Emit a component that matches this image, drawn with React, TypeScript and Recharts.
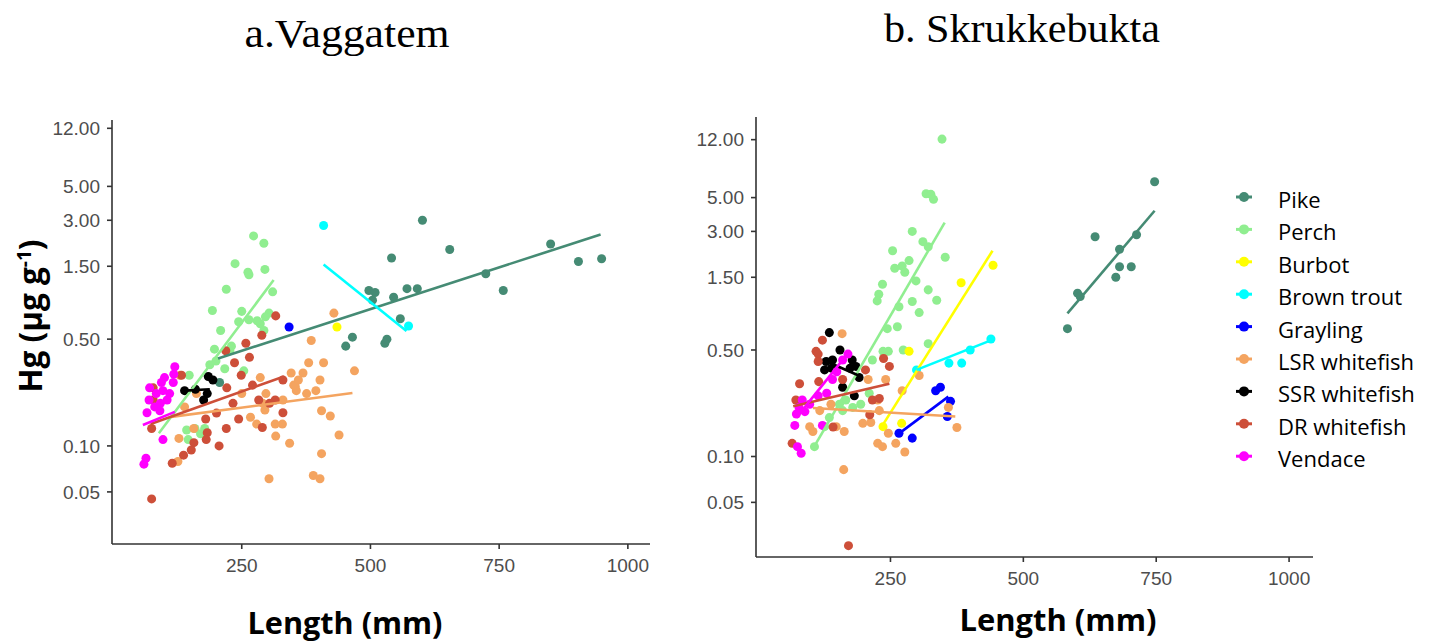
import { ScatterChart, Scatter, XAxis, YAxis, ZAxis } from 'recharts'

type Pt = [number, number]
type Fit = [number, number, number, number]

const species = ['Pike', 'Perch', 'Burbot', 'Brown trout', 'Grayling', 'LSR whitefish', 'SSR whitefish', 'DR whitefish', 'Vendace']
const lengthTicks = [250, 500, 750, 1000]
const hgTicks = [0.05, 0.1, 0.5, 1.5, 3, 5, 12]

// a. Vaggatem — [length mm, Hg µg/g]
const vagPike: Pt[] = [[601, 3.0], [654, 1.93], [541, 1.7], [850, 2.1], [904, 1.61], [949, 1.68], [724, 1.34], [758, 1.04], [497, 1.04], [509, 1.01], [571, 1.07], [591, 1.07], [545, 0.94], [504, 0.9], [558, 0.68], [465, 0.515], [452, 0.45], [532, 0.5], [528, 0.47], [207, 0.26]]
const vagPerch: Pt[] = [[273, 2.37], [293, 2.12], [237, 1.56], [262, 1.37], [264, 1.32], [295, 1.43], [220, 1.06], [310, 1.02], [193, 0.77], [250, 0.76], [303, 0.74], [296, 0.7], [244, 0.65], [264, 0.67], [286, 0.63], [293, 0.57], [209, 0.57], [280, 0.66], [227, 0.42], [197, 0.43], [188, 0.34], [217, 0.32], [254, 0.31], [148, 0.29], [143, 0.127], [159, 0.13], [178, 0.13], [146, 0.11], [170, 0.12], [200, 0.36], [230, 0.45]]
const vagBurbot: Pt[] = [[435, 0.6]]
const vagTrout: Pt[] = [[409, 2.77], [574, 0.61]]
const vagGrayling: Pt[] = [[342, 0.6]]
const vagLsr: Pt[] = [[429, 0.74], [385, 0.49], [380, 0.35], [409, 0.35], [346, 0.3], [369, 0.3], [469, 0.31], [402, 0.27], [351, 0.25], [356, 0.23], [376, 0.22], [394, 0.23], [405, 0.17], [422, 0.157], [329, 0.139], [439, 0.118], [343, 0.104], [405, 0.089], [389, 0.064], [402, 0.061], [286, 0.28], [354, 0.245], [297, 0.22], [291, 0.19], [295, 0.172], [267, 0.154], [279, 0.139], [315, 0.139], [316, 0.116], [128, 0.112], [157, 0.13], [126, 0.079], [303, 0.061], [130, 0.29], [162, 0.22], [139, 0.18], [330, 0.2], [360, 0.27], [250, 0.22]]
const vagSsr: Pt[] = [[139, 0.23], [185, 0.285], [194, 0.27], [183, 0.22], [176, 0.2], [160, 0.235]]
const vagDr: Pt[] = [[316, 0.71], [289, 0.53], [258, 0.47], [219, 0.42], [236, 0.35], [221, 0.24], [249, 0.29], [271, 0.25], [330, 0.27], [233, 0.19], [201, 0.164], [180, 0.15], [244, 0.15], [283, 0.2], [304, 0.19], [315, 0.2], [330, 0.165], [290, 0.132], [220, 0.13], [183, 0.122], [181, 0.11], [157, 0.105], [206, 0.1], [152, 0.094], [137, 0.087], [115, 0.077], [75, 0.13], [78, 0.2], [78, 0.24], [75, 0.045], [133, 0.29], [265, 0.38]]
const vagVendace: Pt[] = [[118, 0.295], [117, 0.26], [94, 0.26], [97, 0.23], [110, 0.22], [71, 0.24], [70, 0.2], [92, 0.19], [81, 0.18], [66, 0.165], [91, 0.17], [97, 0.11], [64, 0.083], [60, 0.076], [105, 0.2], [84, 0.22], [120, 0.33], [100, 0.28]]
// fitted lines: [species index, x1, y1, x2, y2] kept as endpoints
const vagFits: [number, ...Fit][] = [
  [0, 204, 0.374, 947, 2.42],
  [1, 89, 0.121, 312, 1.22],
  [3, 409, 1.54, 570, 0.566],
  [5, 113, 0.155, 465, 0.222],
  [6, 139, 0.23, 188, 0.235],
  [7, 73, 0.139, 332, 0.285],
  [8, 58, 0.137, 120, 0.167],
]

// b. Skrukkebukta
const skrPike: Pt[] = [[747, 6.35], [635, 2.77], [713, 2.85], [681, 2.29], [681, 1.76], [703, 1.76], [674, 1.5], [602, 1.18], [607, 1.12], [583, 0.69]]
const skrPerch: Pt[] = [[347, 12.1], [317, 5.3], [326, 5.25], [331, 4.87], [291, 3.0], [311, 2.57], [321, 2.38], [254, 2.24], [353, 2.03], [285, 1.93], [272, 1.78], [258, 1.72], [277, 1.62], [298, 1.42], [235, 1.35], [321, 1.24], [228, 1.16], [225, 1.05], [291, 1.04], [337, 1.06], [266, 0.96], [304, 0.88], [244, 0.69], [263, 0.71], [321, 0.55], [236, 0.49], [246, 0.49], [274, 0.5], [216, 0.43], [166, 0.235], [179, 0.21], [194, 0.22], [160, 0.2], [210, 0.26], [135, 0.18], [126, 0.157], [107, 0.116], [154, 0.22]]
const skrBurbot: Pt[] = [[383, 1.38], [443, 1.8], [285, 0.49], [236, 0.157], [271, 0.165]]
const skrTrout: Pt[] = [[439, 0.59], [400, 0.5], [360, 0.41], [384, 0.41], [299, 0.37]]
const skrGrayling: Pt[] = [[335, 0.27], [344, 0.285], [363, 0.23], [357, 0.183], [266, 0.142], [291, 0.132]]
const skrLsr: Pt[] = [[159, 0.64], [241, 0.32], [208, 0.32], [304, 0.34], [272, 0.27], [226, 0.235], [198, 0.165], [213, 0.167], [229, 0.2], [163, 0.146], [104, 0.146], [98, 0.157], [148, 0.157], [226, 0.122], [235, 0.116], [260, 0.122], [277, 0.107], [246, 0.142], [375, 0.155], [359, 0.21], [162, 0.082], [138, 0.22], [117, 0.2]]
const skrSsr: Pt[] = [[135, 0.65], [155, 0.5], [129, 0.42], [141, 0.43], [126, 0.37], [139, 0.38], [178, 0.43], [185, 0.39], [191, 0.33], [160, 0.285], [182, 0.25], [174, 0.38]]
const skrDr: Pt[] = [[122, 0.58], [110, 0.49], [114, 0.47], [114, 0.42], [79, 0.3], [115, 0.31], [160, 0.32], [203, 0.37], [248, 0.39], [237, 0.44], [216, 0.235], [229, 0.24], [211, 0.188], [142, 0.156], [65, 0.122], [72, 0.235], [171, 0.026]]
const skrVendace: Pt[] = [[170, 0.47], [160, 0.43], [149, 0.36], [141, 0.32], [130, 0.26], [114, 0.25], [84, 0.235], [78, 0.21], [73, 0.19], [70, 0.16], [89, 0.197], [122, 0.16], [75, 0.116], [82, 0.105], [98, 0.22]]
const skrFits: [number, ...Fit][] = [
  [0, 583, 0.87, 747, 4.1],
  [1, 110, 0.122, 352, 3.43],
  [2, 232, 0.154, 442, 2.24],
  [3, 299, 0.37, 440, 0.58],
  [4, 269, 0.144, 359, 0.247],
  [5, 104, 0.208, 372, 0.183],
  [6, 130, 0.42, 190, 0.34],
  [7, 67, 0.214, 248, 0.3],
  [8, 73, 0.18, 171, 0.48],
]

const colors = ['#458B74', '#90EE90', '#FFFF00', '#00FFFF', '#0000FF', '#F4A460', '#000000', '#CD4F39', '#FF00FF']
const tickFont = { fill: '#4d4d4d', fontSize: 19, fontFamily: '"Liberation Sans", Arial, sans-serif' }
const axisStroke = { stroke: '#333333', strokeWidth: 1.6 }

const NoDot = () => null

interface PanelProps {
  left: number
  width: number
  margin: { top: number; right: number; bottom: number; left: number }
  yWidth: number
  xDomain: [number, number]
  yDomain: [number, number]
  points: Pt[][]
  fits: [number, ...Fit][]
}

function Panel({ left, width, margin, yWidth, xDomain, yDomain, points, fits }: PanelProps) {
  return (
    <div style={{ position: 'absolute', left, top: 0 }}>
      <ScatterChart width={width} height={644} margin={margin}>
        <XAxis
          type="number"
          dataKey="x"
          domain={xDomain}
          ticks={lengthTicks}
          allowDataOverflow
          height={40}
          axisLine={axisStroke}
          tickLine={axisStroke}
          tickSize={5}
          tickMargin={10}
          tick={tickFont}
        />
        <YAxis
          type="number"
          dataKey="y"
          scale="log"
          domain={yDomain}
          ticks={hgTicks}
          allowDataOverflow
          width={yWidth}
          axisLine={axisStroke}
          tickLine={axisStroke}
          tickSize={5}
          tickMargin={7}
          tick={tickFont}
          tickFormatter={(v: number) => v.toFixed(2)}
        />
        <ZAxis range={[80, 80]} />
        {points.map((pts, i) => (
          <Scatter
            key={species[i]}
            data={pts.map(([x, y]) => ({ x, y }))}
            fill={colors[i]}
            isAnimationActive={false}
          />
        ))}
        {fits.map(([i, x1, y1, x2, y2]) => (
          <Scatter
            key={'fit-' + species[i]}
            data={[{ x: x1, y: y1 }, { x: x2, y: y2 }]}
            fill={colors[i]}
            line={{ stroke: colors[i], strokeWidth: 2.6 }}
            shape={NoDot}
            isAnimationActive={false}
          />
        ))}
      </ScatterChart>
    </div>
  )
}

export default function App() {
  const titleFont = '"Liberation Serif", "Times New Roman", serif'
  const labelFont = '"Open Sans", "Liberation Sans", sans-serif'
  return (
    <div style={{ position: 'absolute', left: 0, top: 0, width: 1438, height: 644, background: '#fff' }}>
      <Panel
        left={0}
        width={660}
        margin={{ top: 120, right: 10, bottom: 60, left: 0 }}
        yWidth={112}
        xDomain={[-2, 1043]}
        yDomain={[0.0228, 13.6]}
        points={[vagPike, vagPerch, vagBurbot, vagTrout, vagGrayling, vagLsr, vagSsr, vagDr, vagVendace]}
        fits={vagFits}
      />
      <Panel
        left={690}
        width={640}
        margin={{ top: 117, right: 17, bottom: 47, left: 0 }}
        yWidth={66}
        xDomain={[-3, 1045]}
        yDomain={[0.0219, 16.9]}
        points={[skrPike, skrPerch, skrBurbot, skrTrout, skrGrayling, skrLsr, skrSsr, skrDr, skrVendace]}
        fits={skrFits}
      />
      <svg width={1438} height={644} style={{ position: 'absolute', left: 0, top: 0, pointerEvents: 'none' }}>
        <text x={347} y={47} textAnchor="middle" fontFamily={titleFont} fontSize={41} textLength={205} lengthAdjust="spacingAndGlyphs" fill="#000">
          a.Vaggatem
        </text>
        <text x={1022} y={42} textAnchor="middle" fontFamily={titleFont} fontSize={41} textLength={276} lengthAdjust="spacingAndGlyphs" fill="#000">
          b. Skrukkebukta
        </text>
        <text transform="translate(42,316) rotate(-90)" textAnchor="middle" fontFamily={labelFont} fontWeight={700} fontSize={33} textLength={153} lengthAdjust="spacingAndGlyphs" fill="#000">
          Hg (μg g<tspan dy={-11} fontSize={20}>-1</tspan><tspan dy={11}>)</tspan>
        </text>
        <text x={345} y={634} textAnchor="middle" fontFamily={labelFont} fontWeight={700} fontSize={31} textLength={195} lengthAdjust="spacingAndGlyphs" fill="#000">
          Length (mm)
        </text>
        <text x={1058} y={631} textAnchor="middle" fontFamily={labelFont} fontWeight={700} fontSize={31} textLength={197} lengthAdjust="spacingAndGlyphs" fill="#000">
          Length (mm)
        </text>
        {species.map((s, i) => {
          const y = 200 + i * 32.4
          return (
            <g key={s}>
              <line x1={1236} x2={1252} y1={y - 3} y2={y - 3} stroke={colors[i]} strokeWidth={3} />
              <circle cx={1244} cy={y - 3} r={5} fill={colors[i]} />
              <text x={1278} y={y + 8} fontFamily={labelFont} fontSize={22} fill="#000">
                {s}
              </text>
            </g>
          )
        })}
      </svg>
    </div>
  )
}
